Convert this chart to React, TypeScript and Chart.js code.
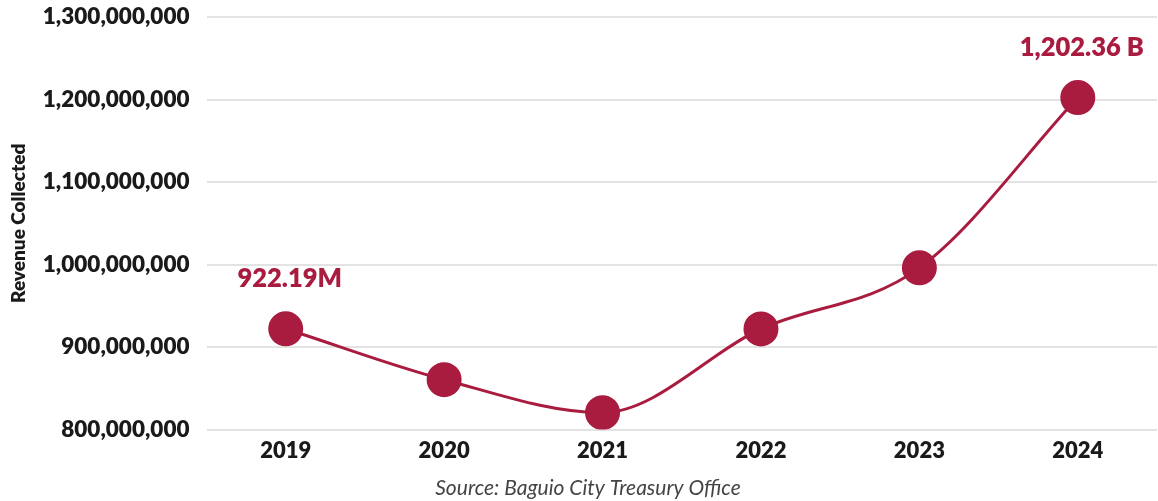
import React, { useEffect, useRef } from "react";
import { Chart, registerables } from "chart.js";

Chart.register(...registerables);

const years = ["2019", "2020", "2021", "2022", "2023", "2024"];
const revenue = [922190000, 860500000, 820500000, 922000000, 996000000, 1202360000];
const pointLabels = ["922.19M", "", "", "", "", "1,202.36 B"];
const yTicks = [800000000, 900000000, 1000000000, 1100000000, 1200000000, 1300000000];
const yAxisTitle = "Revenue Collected";
const sourceText = "Source: Baguio City Treasury Office";

const CRIMSON = "#a91c40";
const FONT = "Lato, 'Open Sans', sans-serif";

const labelPlugin = {
  id: "pointLabels",
  afterDatasetsDraw(chart: any) {
    const meta = chart.getDatasetMeta(0);
    const ctx = chart.ctx;
    ctx.save();
    ctx.font = `800 25.5px ${FONT}`;
    ctx.fillStyle = CRIMSON;
    ctx.textAlign = "center";
    ctx.textBaseline = "middle";
    meta.data.forEach((pt: any, i: number) => {
      const t = pointLabels[i];
      if (!t) return;
      ctx.fillText(t, pt.x + 4, pt.y - 50);
    });
    ctx.restore();
  },
  afterDraw(chart: any) {
    const ctx = chart.ctx;
    ctx.save();
    ctx.font = `italic 21px ${FONT}`;
    ctx.fillStyle = "#444";
    ctx.textAlign = "center";
    ctx.textBaseline = "middle";
    ctx.fillText(sourceText, chart.width / 2 + 9, chart.height - 13);
    ctx.restore();
  },
};

export default function App() {
  const ref = useRef<HTMLCanvasElement | null>(null);
  useEffect(() => {
    document.body.style.margin = "0";
    document.documentElement.style.overflow = "hidden";
    const chart = new Chart(ref.current as HTMLCanvasElement, {
      type: "line",
      data: {
        labels: years,
        datasets: [
          {
            data: revenue,
            borderColor: CRIMSON,
            backgroundColor: CRIMSON,
            borderWidth: 3,
            pointRadius: 16,
            pointBackgroundColor: CRIMSON,
            pointBorderColor: CRIMSON,
            cubicInterpolationMode: "monotone",
            fill: false,
          },
        ],
      },
      options: {
        animation: false,
        responsive: true,
        maintainAspectRatio: false,
        layout: { autoPadding: false, padding: { top: 17, right: 1, left: 7, bottom: 37 } },
        plugins: {
          legend: { display: false },
          tooltip: { enabled: false },
          title: { display: false },
        },
        scales: {
          x: {
            offset: true,
            grid: { display: false, drawTicks: true, tickLength: 8, tickColor: "rgba(0,0,0,0)" },
            border: { display: false },
            ticks: {
              color: "#1a1a1a",
              font: { family: FONT, size: 22, weight: 800 },
              padding: 0,
            },
          },
          y: {
            min: yTicks[0],
            max: yTicks[yTicks.length - 1],
            afterBuildTicks: (axis: any) => {
              axis.ticks = yTicks.map((v) => ({ value: v }));
            },
            grid: { color: "#e3e3e3", lineWidth: 2, drawTicks: true, tickLength: 17, tickColor: "rgba(0,0,0,0)" },
            border: { display: false },
            ticks: {
              color: "#1a1a1a",
              font: { family: FONT, size: 22.5, weight: 800 },
              padding: 0,
              callback: (v: any) => Number(v).toLocaleString("en-US"),
            },
            title: {
              display: true,
              text: yAxisTitle,
              color: "#1a1a1a",
              font: { family: FONT, size: 19, weight: 800 },
              padding: { top: 0, bottom: 13 },
            },
          },
        },
      },
      plugins: [labelPlugin],
    } as any);
    return () => chart.destroy();
  }, []);
  return (
    <div style={{ width: 1158, height: 501, position: "relative" }}>
      <canvas ref={ref} />
    </div>
  );
}
